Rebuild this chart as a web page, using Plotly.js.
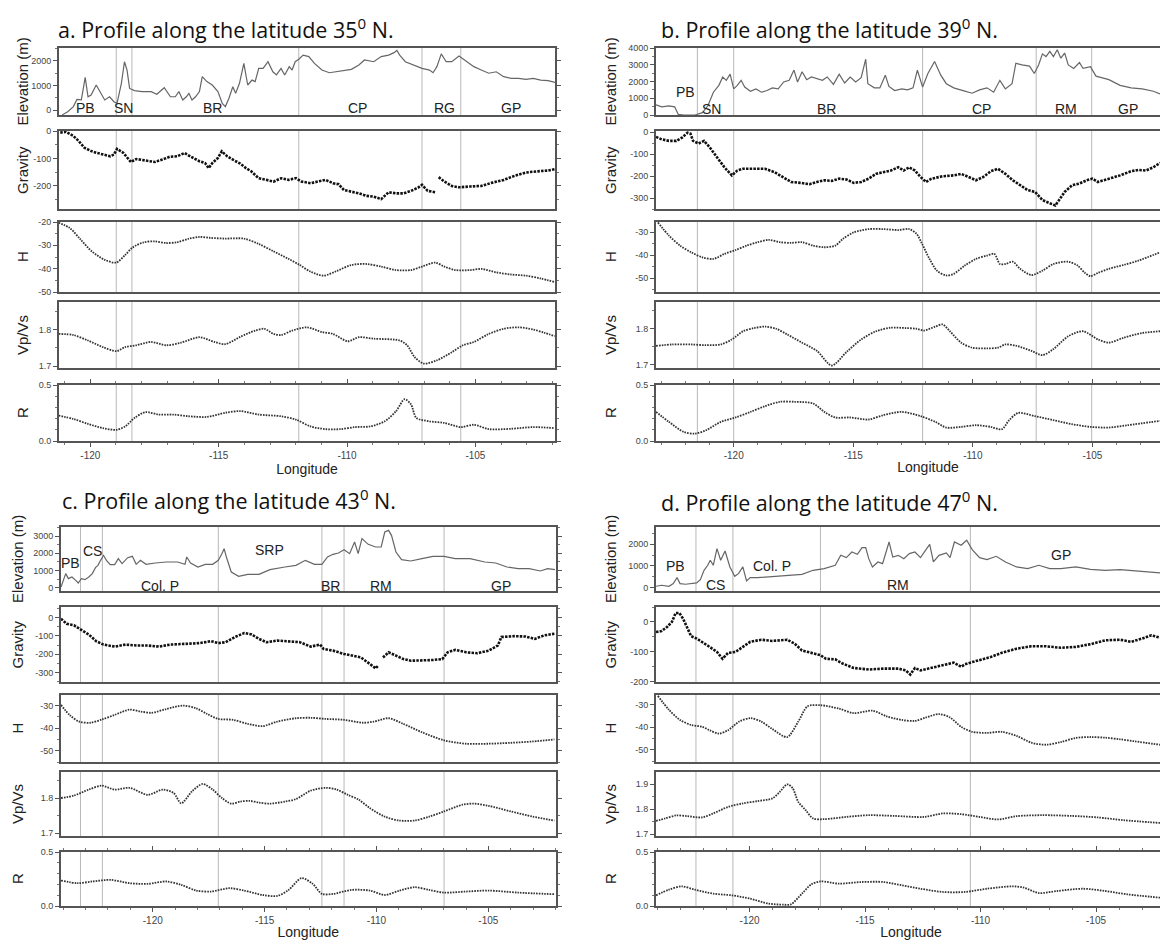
<!DOCTYPE html>
<html><head><meta charset="utf-8">
<script src="https://cdn.plot.ly/plotly-3.0.1.min.js"></script>
<style>html,body{margin:0;padding:0;overflow:hidden;background:#fff}#chart{width:1205px;height:941px}</style>
</head><body><div id="chart"></div>
<script>
// ---------- Panel a : 35 N ----------
const lonElevA = [-121.10,-120.88,-120.66,-120.52,-120.35,-120.20,-120.09,-119.97,-119.77,-119.62,
 -119.44,-119.25,-119.08,-118.96,-118.79,-118.67,-118.57,-118.47,-118.28,-117.99,
 -117.63,-117.41,-117.12,-116.88,-116.69,-116.55,-116.40,-116.26,-116.16,-116.04,
 -115.90,-115.75,-115.64,-115.46,-115.25,-115.03,-114.86,-114.74,-114.60,-114.45,
 -114.34,-114.19,-114.02,-113.87,-113.70,-113.58,-113.44,-113.27,-113.08,-112.89,
 -112.75,-112.57,-112.43,-112.25,-112.14,-112.02,-111.88,-111.71,-111.49,-111.27,
 -110.98,-110.69,-110.26,-109.83,-109.54,-109.32,-108.96,-108.67,-108.38,-108.17,
 -108.06,-107.95,-107.73,-107.44,-107.08,-106.79,-106.65,-106.50,-106.33,-106.14,
 -105.92,-105.64,-105.35,-105.06,-104.77,-104.48,-104.19,-103.90,-103.61,-103.32,
 -103.03,-102.75,-102.46,-102.17,-101.88];
const elevA = [-200,-70,140,430,410,1330,540,610,1020,750,
 410,540,340,270,1090,1970,1630,880,790,750,
 750,640,910,540,540,750,410,540,680,410,
 540,750,1360,1160,1020,750,270,140,480,950,
 680,1090,1900,1020,1220,1160,1700,1700,1970,1560,
 1430,1700,1430,1770,1630,1970,2070,2240,2180,1900,
 1630,1520,1600,1660,1840,2040,1970,2180,2240,2340,
 2430,2240,1970,1840,1700,1630,1520,1770,2290,1970,
 1970,2200,1970,1770,1630,1500,1560,1360,1290,1290,
 1250,1290,1220,1200,1120];
const lonGravA = [-121.17,-120.95,-120.66,-120.45,-120.23,-119.94,-119.73,-119.44,-119.22,-119.08,
 -118.96,-118.71,-118.42,-118.21,-117.85,-117.49,-117.20,-116.91,-116.62,-116.33,
 -116.11,-115.75,-115.53,-115.39,-115.25,-115.03,-114.88,-114.67,-114.45,-114.16,
 -113.94,-113.73,-113.44,-113.15,-112.86,-112.57,-112.28,-111.99,-111.78,-111.42,
 -111.13,-110.84,-110.55,-110.33,-110.12,-109.83,-109.54,-109.25,-108.96,-108.67,
 -108.38,-108.09,-107.80,-107.51,-107.23,-107.08,-106.86,-106.57,-106.50,-106.43,
 -106.21,-105.92,-105.64,-105.20,-104.77,-104.34,-103.90,-103.47,-103.03,-102.60,
 -102.17,-101.91];
const gravA = [-6,-3,-18,-37,-61,-74,-80,-86,-92,-86,
 -65,-80,-113,-102,-107,-113,-104,-94,-92,-80,
 -92,-110,-117,-135,-117,-98,-74,-92,-104,-119,
 -135,-147,-172,-178,-184,-172,-178,-172,-184,-190,
 -184,-178,-190,-194,-215,-221,-227,-236,-239,-248,
 -223,-227,-227,-218,-206,-196,-218,-223,null,-168,
 -184,-200,-205,-202,-200,-188,-178,-163,-151,-147,
 -144,-139];
const lonHA = [-121.24,-120.81,-120.38,-119.94,-119.44,-118.99,-118.64,-118.35,-117.92,-117.49,
 -117.05,-116.62,-116.18,-115.75,-115.32,-114.74,-114.02,-113.44,-112.86,-112.28,
 -111.85,-111.42,-110.91,-110.40,-109.83,-109.25,-108.67,-108.09,-107.51,-107.08,
 -106.57,-106.21,-105.78,-105.20,-104.77,-104.19,-103.61,-103.03,-102.46,-101.91];
const hA = [-20.3,-22.5,-27.5,-32.6,-36.2,-37.4,-34.1,-30.9,-28.7,-28.3,
 -29.0,-28.7,-27.2,-26.4,-26.8,-27.1,-27.1,-29.4,-32.6,-35.8,
 -38.4,-41.3,-43.0,-41.0,-38.4,-38.0,-39.1,-40.6,-40.6,-39.1,
 -37.4,-39.1,-40.6,-40.6,-40.1,-41.6,-42.5,-43.0,-44.2,-45.7];
const lonVpA = [-121.24,-120.66,-120.09,-119.51,-118.99,-118.64,-118.21,-117.63,-117.05,-116.47,
 -115.75,-115.17,-114.74,-114.16,-113.58,-113.22,-112.86,-112.57,-112.14,-111.56,
 -110.98,-110.55,-109.97,-109.54,-108.96,-107.95,-107.66,-107.37,-107.01,-106.50,
 -105.92,-105.49,-105.06,-104.48,-103.90,-103.32,-102.75,-102.31,-101.91];
const vpA = [1.788,1.785,1.770,1.752,1.741,1.752,1.757,1.766,1.757,1.764,
 1.779,1.766,1.760,1.780,1.797,1.802,1.788,1.785,1.797,1.806,
 1.793,1.788,1.768,1.779,1.775,1.770,1.757,1.725,1.707,1.716,
 1.738,1.757,1.766,1.788,1.802,1.806,1.800,1.791,1.782];
const lonRA = [-121.24,-120.66,-120.09,-119.51,-118.99,-118.64,-118.28,-117.85,-117.34,-116.76,
 -116.18,-115.46,-114.74,-114.16,-113.44,-112.57,-111.99,-111.42,-110.84,-110.26,
 -109.68,-109.10,-108.53,-108.09,-107.76,-107.51,-107.30,-106.79,-106.21,-105.56,
 -105.06,-104.48,-103.61,-102.75,-101.91];
const rA = [0.227,0.197,0.152,0.115,0.100,0.130,0.206,0.258,0.236,0.236,
 0.221,0.215,0.252,0.267,0.236,0.221,0.191,0.130,0.106,0.106,
 0.124,0.130,0.176,0.267,0.373,0.327,0.206,0.176,0.161,0.124,
 0.145,0.106,0.109,0.124,0.115];
const bndA = [-118.99,-118.38,-111.88,-107.08,-105.57];
const labelsA = ['PB','SN','BR','CP','RG','GP'];
const labelLonA = [-120.2,-118.71,-115.25,-109.61,-106.21,-103.61];
const labelElevA = [80,80,80,80,80,80];

// ---------- Panel b : 39 N ----------
const lonElevB = [-123.25,-123.01,-122.71,-122.47,-122.32,-122.09,-121.62,-121.31,-121.08,-120.85,
 -120.62,-120.46,-120.31,-120.15,-120.00,-119.85,-119.69,-119.54,-119.30,-119.07,
 -118.84,-118.61,-118.38,-118.14,-117.91,-117.68,-117.48,-117.33,-117.14,-116.95,
 -116.75,-116.52,-116.29,-116.09,-115.83,-115.59,-115.36,-115.13,-114.90,-114.67,
 -114.48,-114.39,-114.12,-113.89,-113.66,-113.51,-113.27,-112.97,-112.73,-112.50,
 -112.32,-112.10,-111.88,-111.60,-111.34,-111.11,-110.80,-110.41,-110.03,-109.72,
 -109.41,-109.13,-108.87,-108.64,-108.36,-108.20,-107.94,-107.63,-107.43,-107.25,
 -107.09,-106.94,-106.78,-106.63,-106.47,-106.32,-106.16,-106.01,-105.78,-105.54,
 -105.39,-105.08,-104.85,-104.62,-104.31,-103.84,-103.38,-102.92,-102.45,-102.17];
const elevB = [610,490,550,490,40,0,0,140,550,1360,
 1770,2270,2070,2440,1560,1770,2070,1670,1420,1560,
 1360,1460,1620,1560,1970,2070,2680,1970,2580,2110,
 2270,2170,2070,2270,1830,2440,1910,2270,1970,2230,
 3330,1870,1620,1620,2380,1710,1460,1560,1500,1620,
 2680,1670,2480,3190,2380,1870,1620,1460,1300,1500,
 1620,1360,2070,1560,1870,3090,2990,2920,2480,2990,
 3650,3490,3800,3490,3900,3390,3700,2990,2780,3130,
 2780,2880,2320,2230,2110,1770,1620,1560,1420,1260];
const lonGravB = [-123.25,-123.01,-122.71,-122.40,-122.16,-121.93,-121.81,-121.70,-121.47,-121.24,
 -121.00,-120.70,-120.39,-120.08,-119.85,-119.61,-119.15,-118.69,-118.30,-117.99,
 -117.60,-117.22,-116.83,-116.52,-116.21,-115.90,-115.59,-115.28,-114.98,-114.67,
 -114.36,-114.05,-113.74,-113.43,-113.12,-112.89,-112.66,-112.42,-112.19,-111.96,
 -111.73,-111.26,-110.80,-110.49,-110.18,-109.87,-109.56,-109.25,-108.95,-108.64,
 -108.33,-108.02,-107.71,-107.40,-107.09,-106.78,-106.55,-106.39,-106.16,-105.85,
 -105.54,-105.23,-105.00,-104.77,-104.31,-103.84,-103.38,-103.07,-102.76,-102.45,
 -102.17];
const gravB = [-22,-33,-40,-40,-25,-3,-7,-40,-52,-40,
 -70,-115,-160,-197,-175,-167,-167,-167,-182,-201,
 -227,-231,-237,-227,-219,-222,-212,-216,-231,-227,
 -212,-190,-182,-175,-160,-175,-160,-175,-204,-227,
 -212,-201,-197,-190,-204,-219,-204,-178,-167,-190,
 -219,-242,-264,-272,-309,-324,-334,-309,-272,-242,
 -234,-219,-212,-227,-212,-197,-178,-172,-175,-160,
 -140];
const lonHB = [-123.17,-122.71,-122.24,-121.78,-121.31,-120.85,-120.39,-119.92,-119.46,-119.00,
 -118.53,-118.07,-117.60,-117.14,-116.68,-116.21,-115.75,-115.44,-114.98,-114.36,
 -113.74,-113.12,-112.66,-112.35,-112.12,-111.81,-111.50,-111.11,-110.80,-110.34,
 -109.87,-109.41,-109.10,-108.87,-108.64,-108.33,-108.02,-107.55,-107.09,-106.63,
 -106.01,-105.62,-105.31,-105.08,-104.77,-104.31,-103.69,-103.07,-102.17];
const hB = [-25.7,-31.4,-35.8,-38.7,-40.9,-41.6,-39.4,-37.7,-35.8,-34.3,
 -33.3,-34.3,-34.6,-34.3,-35.8,-36.5,-35.8,-32.9,-30.0,-28.6,
 -28.6,-29.0,-28.6,-30.7,-35.1,-41.6,-46.7,-48.8,-48.1,-44.5,
 -41.6,-40.1,-39.4,-43.8,-43.8,-42.8,-45.9,-48.6,-46.7,-43.8,
 -42.8,-44.5,-47.7,-49.1,-47.7,-45.9,-44.2,-42.3,-38.7];
const lonVpB = [-123.25,-122.55,-121.78,-121.16,-120.54,-120.08,-119.61,-119.15,-118.69,-118.22,
 -117.76,-117.14,-116.52,-115.90,-115.28,-114.67,-114.05,-113.43,-112.81,-112.35,
 -112.04,-111.57,-111.26,-110.96,-110.49,-110.03,-109.41,-108.95,-108.64,-108.17,
 -107.55,-107.09,-106.63,-106.01,-105.39,-104.77,-104.31,-103.69,-102.92,-102.17];
const vpB = [1.752,1.756,1.756,1.754,1.756,1.770,1.793,1.802,1.806,1.800,
 1.784,1.761,1.738,1.697,1.735,1.770,1.793,1.803,1.802,1.800,
 1.795,1.806,1.812,1.793,1.761,1.747,1.745,1.747,1.756,1.752,
 1.738,1.726,1.743,1.779,1.793,1.770,1.761,1.775,1.788,1.793];
const lonRB = [-123.25,-122.71,-122.09,-121.62,-121.16,-120.54,-119.92,-119.30,-118.69,-118.07,
 -117.45,-116.68,-116.21,-115.75,-115.13,-114.36,-113.74,-112.97,-112.19,-111.57,
 -111.11,-110.49,-109.87,-109.25,-108.79,-108.48,-108.10,-107.40,-106.63,-105.85,
 -105.08,-104.31,-103.53,-102.17];
const rB = [0.260,0.171,0.081,0.066,0.096,0.171,0.210,0.260,0.311,0.350,
 0.350,0.335,0.260,0.210,0.210,0.192,0.231,0.260,0.222,0.171,
 0.120,0.126,0.141,0.126,0.105,0.186,0.251,0.222,0.186,0.150,
 0.126,0.120,0.141,0.180];
const bndB = [-121.52,-120.00,-112.10,-107.35,-105.03];
const labelsB = ['PB','SN','BR','CP','RM','GP'];
const labelLonB = [-122.01,-120.93,-116.13,-109.64,-106.09,-103.53];
const labelElevB = [1360,345,345,345,345,345];

// ---------- Panel c : 43 N ----------
const lonElevC = [-124.10,-123.99,-123.89,-123.77,-123.61,-123.44,-123.33,-123.19,-123.03,-122.86,
 -122.70,-122.56,-122.45,-122.33,-122.20,-122.07,-121.90,-121.70,-121.54,-121.37,
 -121.12,-120.91,-120.74,-120.55,-120.30,-119.88,-119.39,-118.89,-118.56,-118.48,
 -118.31,-117.98,-117.65,-117.32,-117.07,-116.91,-116.81,-116.71,-116.49,-116.16,
 -115.75,-115.25,-114.76,-114.09,-113.60,-113.18,-112.77,-112.44,-112.19,-111.94,
 -111.70,-111.45,-111.20,-110.98,-110.82,-110.65,-110.37,-110.04,-109.79,-109.63,
 -109.46,-109.33,-109.13,-108.88,-108.47,-107.97,-107.48,-106.98,-106.48,-105.82,
 -105.16,-104.67,-104.17,-103.67,-103.18,-102.68,-102.35,-102.02];
const elevC = [58,442,827,538,635,442,288,538,481,635,
 827,1173,1308,1596,1885,1596,1346,1346,1692,1404,
 1750,1827,1365,1596,1365,1442,1500,1500,1365,1788,
 1442,1212,1365,1365,1596,1981,2269,1788,923,673,
 788,788,1058,1212,1308,1596,1365,1365,1788,1942,
 2019,2212,1981,2654,1981,2846,2519,2365,2365,3231,
 3327,3038,2077,1635,1558,1692,1827,1827,1692,1692,
 1500,1442,1212,1115,1115,981,1115,1058];
const lonGravC = [-124.10,-123.85,-123.52,-123.19,-122.86,-122.53,-122.20,-121.70,-121.21,-120.71,
 -120.22,-119.72,-119.22,-118.56,-117.90,-117.40,-117.07,-116.74,-116.33,-115.91,
 -115.58,-115.25,-114.92,-114.43,-113.93,-113.43,-112.94,-112.52,-112.36,-111.94,
 -111.45,-111.03,-110.70,-110.29,-110.04,-109.93,-109.82,-109.71,-109.46,-109.13,
 -108.80,-108.47,-107.97,-107.48,-107.06,-106.82,-106.48,-105.99,-105.49,-104.99,
 -104.58,-104.42,-103.84,-103.34,-102.93,-102.51,-102.05];
const gravC = [-6,-33,-42,-66,-92,-128,-147,-158,-147,-152,
 -152,-158,-147,-143,-139,-128,-139,-134,-106,-84,
 -92,-116,-134,-125,-128,-134,-158,-147,-171,-180,
 -198,-207,-217,-253,-277,-262,null,-217,-189,-207,
 -226,-235,-235,-231,-226,-189,-176,-189,-194,-180,
 -152,-106,-101,-103,-116,-97,-88];
const lonHC = [-124.10,-123.69,-123.28,-122.78,-122.28,-121.70,-121.04,-120.55,-120.05,-119.39,
 -118.64,-118.06,-117.57,-117.07,-116.41,-115.75,-115.09,-114.43,-113.60,-112.94,
 -112.27,-111.45,-110.62,-110.12,-109.46,-108.80,-107.97,-106.98,-105.99,-104.99,
 -104.00,-103.01,-102.05];
const hC = [-29.7,-34.4,-37.1,-37.6,-36.2,-34.1,-31.8,-32.6,-33.2,-31.5,
 -30.0,-31.2,-33.7,-35.9,-36.3,-38.1,-39.1,-37.1,-35.6,-35.4,
 -35.9,-36.3,-37.6,-37.1,-35.6,-38.1,-41.8,-45.4,-46.9,-46.9,
 -46.5,-45.9,-45.0];
const lonVpC = [-124.10,-123.52,-122.86,-122.28,-121.70,-121.04,-120.22,-119.55,-119.06,-118.73,
 -118.23,-117.77,-117.32,-116.91,-116.49,-116.08,-115.67,-115.25,-114.76,-114.09,
 -113.60,-112.94,-112.27,-111.78,-111.28,-110.79,-110.29,-109.63,-108.97,-108.30,
 -107.64,-106.98,-106.15,-105.66,-105.00,-104.00,-103.01,-102.05];
const vpC = [1.800,1.807,1.824,1.835,1.824,1.829,1.809,1.824,1.814,1.785,
 1.820,1.840,1.824,1.800,1.784,1.790,1.792,1.787,1.784,1.790,
 1.797,1.821,1.829,1.824,1.809,1.795,1.771,1.747,1.736,1.736,
 1.747,1.762,1.781,1.784,1.778,1.762,1.747,1.736];
const lonRC = [-124.10,-123.36,-122.70,-121.87,-121.04,-120.22,-119.39,-118.73,-118.06,-117.40,
 -116.58,-115.91,-115.09,-114.43,-113.93,-113.35,-112.85,-112.44,-111.94,-111.12,
 -110.29,-109.63,-108.97,-108.30,-107.64,-106.98,-105.99,-104.99,-103.67,-102.05];
const rC = [0.236,0.211,0.227,0.242,0.211,0.205,0.227,0.196,0.143,0.134,
 0.165,0.143,0.102,0.093,0.149,0.258,0.205,0.112,0.112,0.149,
 0.143,0.102,0.143,0.174,0.149,0.124,0.134,0.143,0.124,0.109];
const bndC = [-123.23,-122.25,-117.07,-112.44,-111.45,-106.98];
const labelsC = ['PB','CS','Col. P','SRP','BR','RM','GP'];
const labelLonC = [-123.69,-122.70,-119.69,-114.76,-112.06,-109.79,-104.42];
const labelElevC = [1442,2135,120,2173,120,120,120];

// ---------- Panel d : 47 N ----------
const lonElevD = [-124.05,-123.81,-123.49,-123.30,-123.14,-123.01,-122.77,-122.53,-122.29,-122.13,
 -121.97,-121.81,-121.70,-121.57,-121.41,-121.25,-121.06,-120.85,-120.64,-120.48,
 -120.29,-120.13,-119.97,-119.65,-119.01,-118.37,-117.73,-117.25,-116.77,-116.29,
 -116.05,-115.81,-115.57,-115.33,-115.13,-114.97,-114.84,-114.68,-114.44,-114.24,
 -114.12,-113.96,-113.80,-113.56,-113.32,-113.08,-112.84,-112.60,-112.36,-112.20,
 -112.04,-111.80,-111.48,-111.32,-111.13,-110.84,-110.60,-110.36,-110.04,-109.72,
 -109.32,-108.92,-108.44,-107.96,-107.48,-107.00,-106.52,-105.88,-105.24,-104.60,
 -103.96,-103.32,-102.68,-102.23];
const elevD = [62,108,62,185,462,185,154,185,215,369,
 800,1031,1262,1031,1800,1262,1692,954,523,646,
 954,308,462,462,523,569,615,800,877,1031,
 1492,1385,1646,1538,1846,1846,1338,954,1185,1108,
 1569,2108,1415,1492,1338,1569,1646,1385,1754,2000,
 1185,1492,1600,1385,2108,1954,2185,1754,1385,1292,
 1446,1185,954,877,1031,877,877,954,846,800,
 831,769,723,677];
const lonGravD = [-124.05,-123.81,-123.57,-123.36,-123.20,-123.04,-122.88,-122.69,-122.53,-122.29,
 -122.05,-121.73,-121.41,-121.17,-120.93,-120.61,-120.29,-119.97,-119.49,-119.01,
 -118.37,-118.05,-117.73,-117.25,-116.93,-116.69,-116.29,-115.97,-115.49,-114.84,
 -114.20,-113.56,-113.24,-113.04,-112.84,-112.60,-112.12,-111.64,-111.16,-110.84,
 -110.68,-110.36,-109.88,-109.56,-109.08,-108.44,-107.80,-107.16,-106.52,-105.88,
 -105.24,-104.60,-103.96,-103.48,-103.00,-102.60,-102.23];
const gravD = [-34,-31,-17,0,30,30,11,-22,-48,-56,
 -67,-84,-101,-124,-104,-101,-84,-67,-60,-64,
 -60,-73,-96,-107,-112,-124,-126,-140,-155,-160,
 -157,-157,-163,-177,-155,-163,-155,-146,-137,-151,
 -143,-135,-124,-118,-104,-90,-82,-82,-87,-84,
 -75,-62,-60,-67,-56,-45,-53];
const lonHD = [-123.97,-123.49,-123.01,-122.53,-122.05,-121.73,-121.33,-120.93,-120.45,-119.97,
 -119.49,-119.01,-118.37,-117.89,-117.49,-116.93,-116.13,-115.49,-114.68,-114.04,
 -113.40,-112.84,-112.36,-111.80,-111.32,-110.84,-110.36,-109.72,-109.08,-108.44,
 -107.80,-107.16,-106.52,-105.88,-105.24,-104.60,-103.96,-103.32,-102.23];
const hD = [-26.2,-32.3,-36.8,-39.0,-39.8,-41.3,-42.8,-41.3,-37.5,-36.0,
 -37.5,-40.8,-44.3,-37.5,-30.8,-30.3,-31.8,-33.8,-32.7,-35.3,
 -36.8,-37.2,-35.7,-34.2,-35.7,-39.8,-42.0,-42.5,-42.0,-43.8,
 -46.8,-47.7,-46.5,-44.7,-44.3,-44.6,-45.3,-46.2,-47.7];
const lonVpD = [-124.05,-123.65,-123.17,-122.69,-122.05,-121.57,-120.93,-120.29,-119.65,-119.01,
 -118.69,-118.37,-118.13,-117.89,-117.57,-117.25,-116.77,-115.81,-114.84,-113.72,
 -112.44,-111.64,-110.84,-110.04,-109.24,-108.44,-107.32,-106.04,-104.92,-103.80,
 -102.23];
const vpD = [1.753,1.763,1.775,1.772,1.767,1.783,1.809,1.823,1.832,1.843,
 1.869,1.899,1.883,1.829,1.796,1.763,1.760,1.769,1.776,1.773,
 1.769,1.783,1.780,1.769,1.759,1.772,1.776,1.773,1.767,1.756,
 1.745];
const lonRD = [-124.05,-123.49,-122.93,-122.37,-121.57,-120.77,-119.97,-119.17,-118.53,-118.21,
 -117.73,-117.33,-116.93,-116.13,-115.16,-114.20,-113.40,-112.60,-111.64,-110.68,
 -109.72,-108.60,-108.12,-107.48,-106.68,-105.56,-104.60,-103.64,-102.23];
const rD = [0.099,0.151,0.182,0.151,0.114,0.099,0.068,0.022,0.012,0.015,
 0.114,0.200,0.228,0.207,0.222,0.222,0.191,0.160,0.130,0.130,
 0.160,0.182,0.170,0.120,0.139,0.160,0.139,0.108,0.077];
const bndD = [-122.32,-120.72,-116.93,-110.44];
const labelsD = ['PB','CS','Col. P','RM','GP'];
const labelLonD = [-123.20,-121.49,-119.01,-113.56,-106.52];
const labelElevD = [985,108,985,108,1492];

const lonTicks = [-120,-115,-110,-105];
const panelTitles = ['a. Profile along the latitude 35<sup>0</sup> N.','b. Profile along the latitude 39<sup>0</sup> N.',
  'c. Profile along the latitude 43<sup>0</sup> N.','d. Profile along the latitude 47<sup>0</sup> N.'];
const yNames = ['Elevation (m)','Gravity','H','Vp/Vs','R'];

// ---------- layout geometry (pixels) ----------
const W = 1205, H = 941;
const FONT = 'Liberation Sans, Arial, Helvetica, sans-serif';
const rowsTop = [[48,115],[131,209],[222,292],[302,368],[385,441]];
const rowsBot = [[527,591],[607,682],[695,762],[772,836],[852,906]];

const panels = [
 {title:panelTitles[0], tx:56, ty:29, xpx:[59,555], rows:rowsTop, ytX:22, xr:[-121.22,-101.9],
  data:[[lonElevA,elevA],[lonGravA,gravA],[lonHA,hA],[lonVpA,vpA],[lonRA,rA]],
  yr:[[-204,2530],[-284,0],[-50,-20],[1.695,1.875],[0,0.5]],
  yt:[[0,1000,2000],[0,-100,-200],[-20,-30,-40,-50],[1.7,1.8],[0,0.5]],
  minor:[500,50,5,0.05,0.1], bnd:bndA, lab:labelsA, labLon:labelLonA, labY:labelElevA},
 {title:panelTitles[1], tx:659, ty:29, xpx:[656,1200], rows:rowsTop, ytX:610, xr:[-123.25,-100.5],
  data:[[lonElevB,elevB],[lonGravB,gravB],[lonHB,hB],[lonVpB,vpB],[lonRB,rB]],
  yr:[[0,4000],[-350,5],[-56,-25.5],[1.69,1.875],[0,0.5]],
  yt:[[0,1000,2000,3000,4000],[0,-100,-200,-300],[-30,-40,-50],[1.7,1.8],[0,0.5]],
  minor:[500,50,5,0.05,0.1], bnd:bndB, lab:labelsB, labLon:labelLonB, labY:labelElevB},
 {title:panelTitles[2], tx:60, ty:500, xpx:[61,555.5], rows:rowsBot, ytX:17, xr:[-124.1,-102.0],
  data:[[lonElevC,elevC],[lonGravC,gravC],[lonHC,hC],[lonVpC,vpC],[lonRC,rC]],
  yr:[[-175,3520],[-351,58],[-55,-25.3],[1.692,1.874],[0,0.5]],
  yt:[[0,1000,2000,3000],[0,-100,-200,-300],[-30,-40,-50],[1.7,1.8],[0,0.5]],
  minor:[500,50,5,0.05,0.1], bnd:bndC, lab:labelsC, labLon:labelLonC, labY:labelElevC},
 {title:panelTitles[3], tx:659, ty:501, xpx:[656,1166], rows:rowsBot, ytX:610, xr:[-124.05,-101.97],
  data:[[lonElevD,elevD],[lonGravD,gravD],[lonHD,hD],[lonVpD,vpD],[lonRD,rD]],
  yr:[[-157,2800],[-202,50],[-55.3,-25.8],[1.693,1.948],[0,0.5]],
  yt:[[0,1000,2000],[0,-100,-200],[-30,-40,-50],[1.7,1.8,1.9],[0,0.5]],
  minor:[500,50,5,0.05,0.1], bnd:bndD, lab:labelsD, labLon:labelLonD, labY:labelElevD}
];

const traces = [];
const layout = {width:W, height:H, margin:{l:0,r:0,t:0,b:0}, paper_bgcolor:'#fff', plot_bgcolor:'#fff',
  showlegend:false, hovermode:false, annotations:[], shapes:[]};

panels.forEach((p, pi) => {
  layout.annotations.push({xref:'paper', yref:'paper', x:p.tx/W, y:1-p.ty/H, xanchor:'left', yanchor:'middle',
    text:p.title, showarrow:false, font:{family:'Open Sans, Lato, sans-serif', size:21.5, color:'#111'}});
  p.data.forEach((d, ri) => {
    const n = pi*5 + ri + 1;
    const sfx = n === 1 ? '' : String(n);
    const xa = 'x' + sfx, ya = 'y' + sfx;
    const r = p.rows[ri];
    const isR = ri === 4;
    const xaxis = {domain:[p.xpx[0]/W, p.xpx[1]/W], anchor:ya, range:p.xr, showgrid:false, zeroline:false,
      showline:true, linecolor:'#555', linewidth:2, mirror:true, fixedrange:true};
    if (isR) {
      Object.assign(xaxis, {tickmode:'array', tickvals:lonTicks, ticktext:lonTicks.map(v => String(v)),
        ticks:'outside', ticklen:4, tickcolor:'#555', mirror:'allticks',
        tickfont:{family:FONT, size:10, color:'#444'},
        minor:{tickmode:'linear', tick0:0, dtick:1, ticks:'outside', ticklen:2, tickcolor:'#777'},
        title:{text:'Longitude', font:{family:FONT, size:14, color:'#222'}, standoff:2}});
    } else {
      Object.assign(xaxis, {showticklabels:false, ticks:''});
    }
    layout['xaxis' + sfx] = xaxis;
    const tv = p.yt[ri];
    layout['yaxis' + sfx] = {domain:[1 - r[1]/H, 1 - r[0]/H], anchor:xa, range:p.yr[ri], showgrid:false, zeroline:false,
      showline:true, linecolor:'#555', linewidth:2, mirror:'allticks', fixedrange:true,
      tickmode:'array', tickvals:tv, ticktext:tv.map(v => (ri >= 3 ? v.toFixed(1) : String(v))),
      ticks:'outside', ticklen:4, tickcolor:'#555', tickfont:{family:FONT, size:9, color:'#444'},
      minor:{tickmode:'linear', tick0:0, dtick:p.minor[ri], ticks:'outside', ticklen:2, tickcolor:'#777'}};
    p.bnd.forEach(b => layout.shapes.push({type:'line', xref:xa, yref:ya + ' domain', x0:b, x1:b, y0:0, y1:1,
      line:{color:'#b8b8b8', width:1}, layer:'below'}));
    layout.annotations.push({xref:'paper', yref:'paper', x:p.ytX/W, y:1 - (r[0]+r[1])/2/H, xanchor:'center', yanchor:'middle',
      text:yNames[ri], textangle:-90, showarrow:false, font:{family:FONT, size:15, color:'#222'}});
    let line;
    if (ri === 0) line = {color:'#666', width:1.2};
    else if (ri === 1) line = {color:'#111', width:2.6, dash:'2.5px,1.2px'};
    else line = {color:'#333', width:1.8, dash:'1.6px,1.1px', shape:'spline', smoothing:0.8};
    traces.push({type:'scatter', mode:'lines', x:d[0], y:d[1], xaxis:xa, yaxis:ya, line:line,
      connectgaps:false, hoverinfo:'skip', cliponaxis:true});
    if (ri === 0) {
      p.lab.forEach((t, k) => layout.annotations.push({xref:xa, yref:ya, x:p.labLon[k], y:p.labY[k],
        text:t, showarrow:false, xanchor:'center', yanchor:'middle', font:{family:FONT, size:14, color:'#222'}}));
    }
  });
});

Plotly.newPlot('chart', traces, layout, {staticPlot:true, displayModeBar:false});
</script>
</body></html>
